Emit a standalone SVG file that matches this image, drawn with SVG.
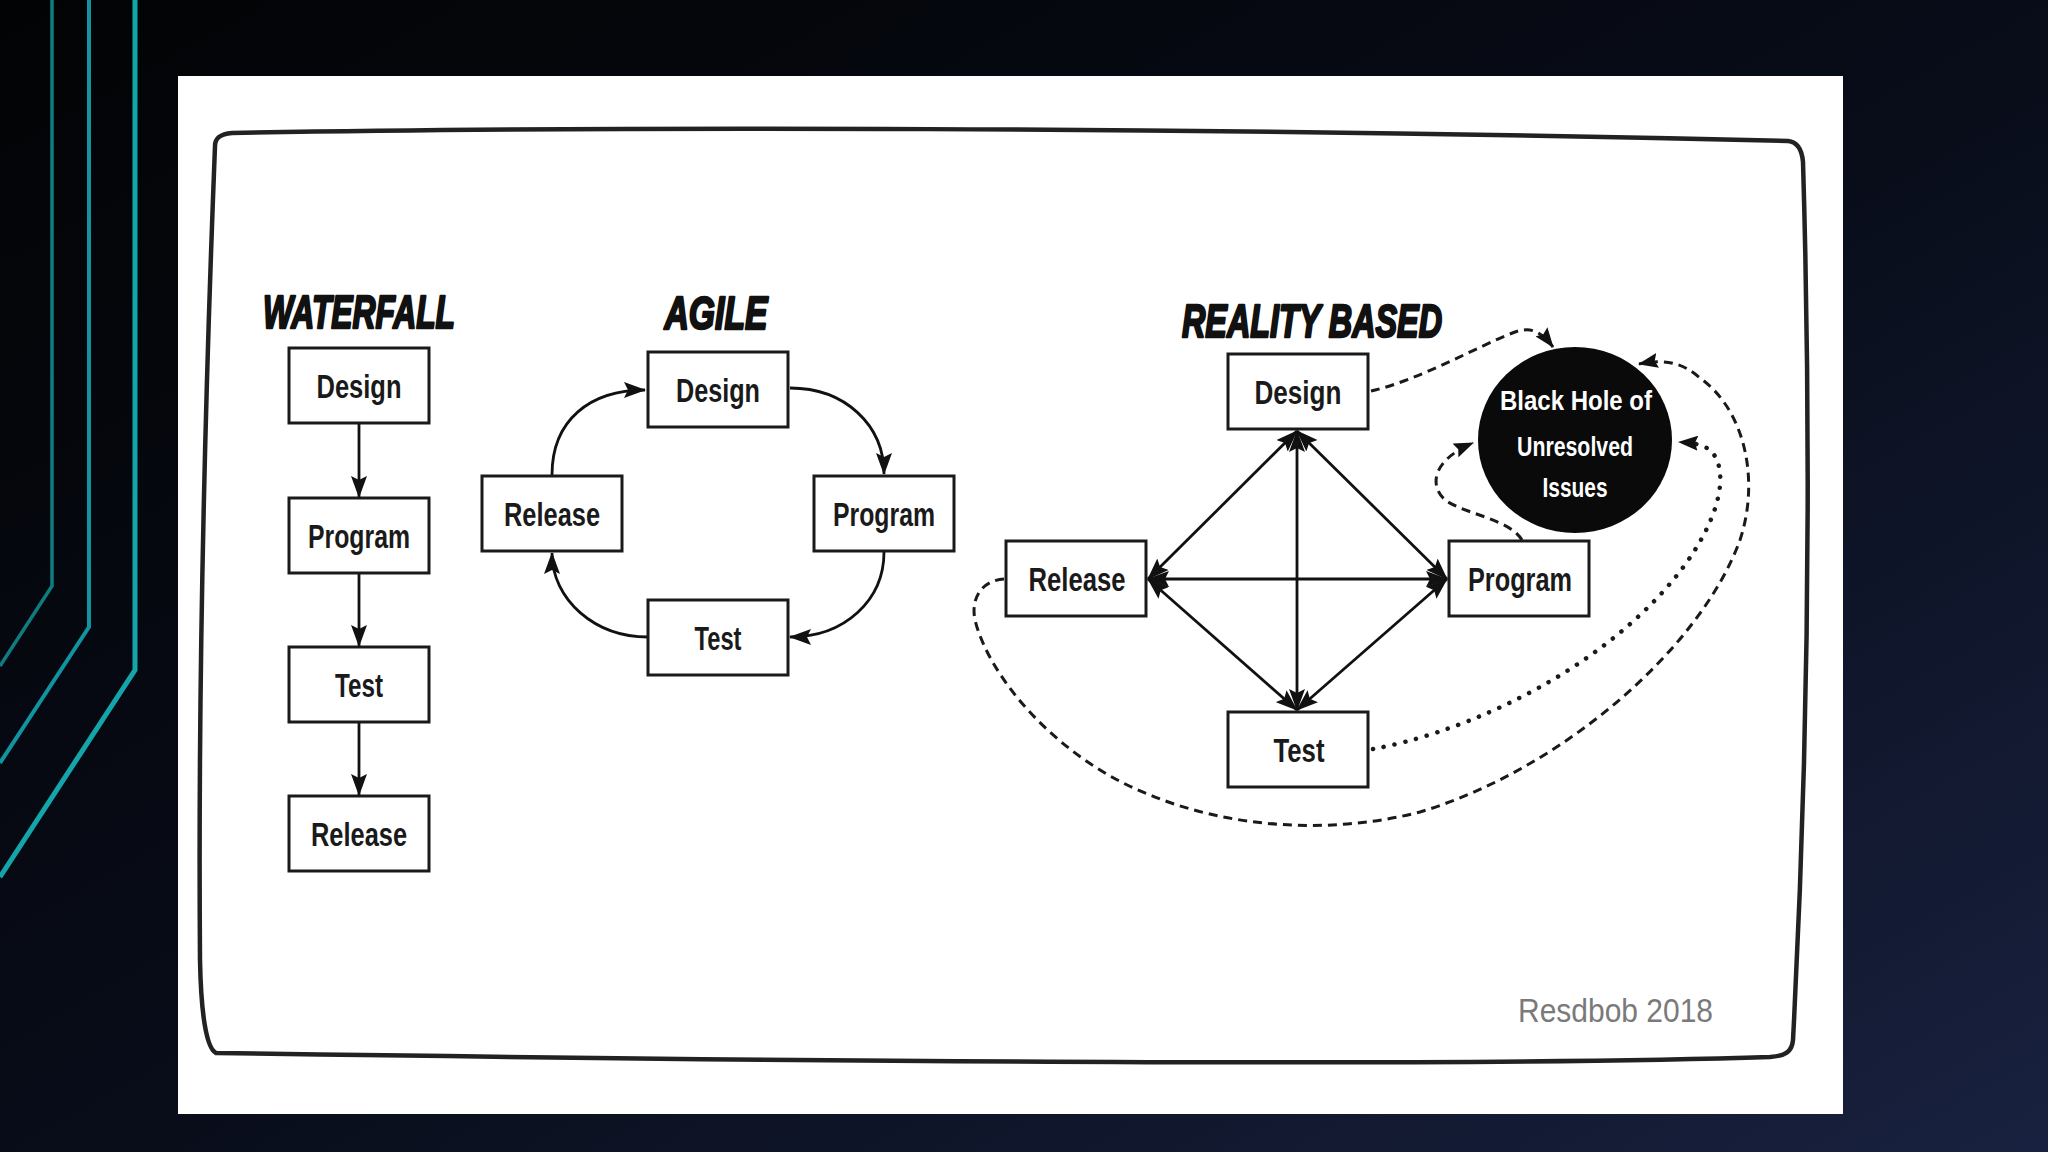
<svg xmlns="http://www.w3.org/2000/svg" width="2048" height="1152" viewBox="0 0 2048 1152">
<defs>
<linearGradient id="bg" x1="0" y1="0" x2="1" y2="1">
<stop offset="0" stop-color="#020304"/>
<stop offset="0.5" stop-color="#080c18"/>
<stop offset="1" stop-color="#18213f"/>
</linearGradient>
<marker id="ah" markerUnits="userSpaceOnUse" markerWidth="22" markerHeight="16" viewBox="0 0 22 16" refX="21" refY="8" orient="auto-start-reverse">
<path d="M0,0 L22,8 L0,16 L4,8 Z" fill="#111"/>
</marker>
<marker id="ahs" markerUnits="userSpaceOnUse" markerWidth="20" markerHeight="15" viewBox="0 0 20 15" refX="19" refY="7.5" orient="auto">
<path d="M0,0 L20,7.5 L0,15 L3,7.5 Z" fill="#111"/>
</marker>
<style>
.teal{fill:none;stroke-linejoin:miter}
.box{fill:#fff;stroke:#1a1a1a;stroke-width:3}
.lbl{font-family:"Liberation Sans","DejaVu Sans",sans-serif;font-weight:bold;font-size:34px;fill:#1a1a1a;text-anchor:middle}
.ttl{font-family:"Liberation Sans","DejaVu Sans",sans-serif;font-weight:bold;font-style:italic;font-size:47px;fill:#111;stroke:#111;stroke-width:2.5;stroke-linejoin:round;text-anchor:middle}
.hole{font-family:"Liberation Sans","DejaVu Sans",sans-serif;font-weight:bold;font-size:27px;fill:#fff;text-anchor:middle}
.con{fill:none;stroke:#111;stroke-width:2.8}
.dash{fill:none;stroke:#1a1a1a;stroke-width:3;stroke-dasharray:9 6}
.dot{fill:none;stroke:#1a1a1a;stroke-width:4.5;stroke-dasharray:0.1 11;stroke-linecap:round}
</style>
</defs>
<rect x="0" y="0" width="2048" height="1152" fill="url(#bg)"/>
<g id="decor">
<polyline class="teal" points="52,0 52,586 0,666" stroke="#0f7c80" stroke-width="3.5"/>
<polyline class="teal" points="89,0 89,627 0,763" stroke="#1194a0" stroke-width="4"/>
<polyline class="teal" points="135,0 135,670 0,877" stroke="#14a5aa" stroke-width="5"/>
</g>
<rect id="panel" x="178" y="76" width="1665" height="1038" fill="#ffffff"/>
<path id="frame" d="M215,146 C215,138 220,134 232,133 C600,126 1200,127 1788,141 C1798,142 1802,150 1803,162 C1810,400 1811,700 1793,1040 C1792,1052 1785,1056 1770,1057 C1500,1066 900,1063 216,1053 C206,1048 201,1012 200,960 C198,700 205,400 215,146 Z" fill="none" stroke="#222" stroke-width="4.5" stroke-linejoin="round"/>

<g id="titles">
<text class="ttl" x="359" y="328" textLength="192" lengthAdjust="spacingAndGlyphs">WATERFALL</text>
<text class="ttl" x="716" y="329" textLength="103" lengthAdjust="spacingAndGlyphs">AGILE</text>
<text class="ttl" x="1312" y="337" textLength="260" lengthAdjust="spacingAndGlyphs">REALITY BASED</text>
</g>

<g id="connectors">
<line class="con" x1="359" y1="423" x2="359" y2="497" marker-end="url(#ah)"/>
<line class="con" x1="359" y1="573" x2="359" y2="646" marker-end="url(#ah)"/>
<line class="con" x1="359" y1="722" x2="359" y2="795" marker-end="url(#ah)"/>
<path class="con" d="M552,475 C552,420 590,390 645,390" marker-end="url(#ah)"/>
<path class="con" d="M790,388 C845,388 884,425 884,474" marker-end="url(#ah)"/>
<path class="con" d="M884,552 C884,600 845,637 790,637" marker-end="url(#ah)"/>
<path class="con" d="M648,637 C595,637 552,600 552,553" marker-end="url(#ah)"/>
<line class="con" x1="1297" y1="431" x2="1148" y2="579" marker-start="url(#ah)" marker-end="url(#ah)"/>
<line class="con" x1="1297" y1="431" x2="1447" y2="579" marker-start="url(#ah)" marker-end="url(#ah)"/>
<line class="con" x1="1148" y1="579" x2="1297" y2="710" marker-start="url(#ah)" marker-end="url(#ah)"/>
<line class="con" x1="1447" y1="579" x2="1297" y2="710" marker-start="url(#ah)" marker-end="url(#ah)"/>
<line class="con" x1="1148" y1="579" x2="1447" y2="579" marker-start="url(#ah)" marker-end="url(#ah)"/>
<line class="con" x1="1297" y1="431" x2="1297" y2="710" marker-start="url(#ah)" marker-end="url(#ah)"/>
<path class="dash" d="M1371,391 C1420,380 1480,345 1515,332 C1530,327 1540,330 1553,347" marker-end="url(#ahs)"/>
<path class="dash" d="M1522,540 C1510,520 1470,515 1448,502 C1430,490 1428,462 1473,443" marker-end="url(#ahs)"/>
<path class="dot" d="M1373,749 C1450,735 1560,690 1640,615 C1710,550 1735,480 1712,452 C1705,445 1695,443 1679,442" marker-end="url(#ahs)"/>
<path class="dash" d="M1004,579 C985,580 970,595 975,620 C990,680 1060,760 1150,795 C1230,828 1330,835 1420,812 C1560,770 1700,650 1740,540 C1760,480 1745,410 1700,378 C1685,365 1670,358 1639,364" marker-end="url(#ahs)"/>
</g>

<g id="wf-design"><rect class="box" x="289" y="348" width="140" height="75"/><text class="lbl" x="359" y="398" textLength="85" lengthAdjust="spacingAndGlyphs">Design</text></g>
<g id="wf-program"><rect class="box" x="289" y="498" width="140" height="75"/><text class="lbl" x="359" y="548" textLength="102" lengthAdjust="spacingAndGlyphs">Program</text></g>
<g id="wf-test"><rect class="box" x="289" y="647" width="140" height="75"/><text class="lbl" x="359" y="697" textLength="48" lengthAdjust="spacingAndGlyphs">Test</text></g>
<g id="wf-release"><rect class="box" x="289" y="796" width="140" height="75"/><text class="lbl" x="359" y="846" textLength="96" lengthAdjust="spacingAndGlyphs">Release</text></g>

<g id="ag-design"><rect class="box" x="648" y="352" width="140" height="75"/><text class="lbl" x="718" y="402" textLength="84" lengthAdjust="spacingAndGlyphs">Design</text></g>
<g id="ag-release"><rect class="box" x="482" y="476" width="140" height="75"/><text class="lbl" x="552" y="526" textLength="96" lengthAdjust="spacingAndGlyphs">Release</text></g>
<g id="ag-program"><rect class="box" x="814" y="476" width="140" height="75"/><text class="lbl" x="884" y="526" textLength="102" lengthAdjust="spacingAndGlyphs">Program</text></g>
<g id="ag-test"><rect class="box" x="648" y="600" width="140" height="75"/><text class="lbl" x="718" y="650" textLength="47" lengthAdjust="spacingAndGlyphs">Test</text></g>

<g id="rb-design"><rect class="box" x="1228" y="354" width="140" height="75"/><text class="lbl" x="1298" y="404" textLength="87" lengthAdjust="spacingAndGlyphs">Design</text></g>
<g id="rb-release"><rect class="box" x="1006" y="541" width="140" height="75"/><text class="lbl" x="1077" y="591" textLength="97" lengthAdjust="spacingAndGlyphs">Release</text></g>
<g id="rb-program"><rect class="box" x="1449" y="541" width="140" height="75"/><text class="lbl" x="1520" y="591" textLength="104" lengthAdjust="spacingAndGlyphs">Program</text></g>
<g id="rb-test"><rect class="box" x="1228" y="712" width="140" height="75"/><text class="lbl" x="1299" y="762" textLength="51" lengthAdjust="spacingAndGlyphs">Test</text></g>

<g id="black-hole">
<ellipse cx="1575" cy="440" rx="97" ry="93" fill="#0a0a0a"/>
<text class="hole" x="1576" y="410" textLength="152" lengthAdjust="spacingAndGlyphs">Black Hole of</text>
<text class="hole" x="1575" y="456" textLength="116" lengthAdjust="spacingAndGlyphs">Unresolved</text>
<text class="hole" x="1575" y="497" textLength="65" lengthAdjust="spacingAndGlyphs">Issues</text>
</g>

<text id="signature" x="1518" y="1022" font-family="'Liberation Sans','DejaVu Sans',sans-serif" font-size="34" fill="#7a7a7a" textLength="195" lengthAdjust="spacingAndGlyphs">Resdbob 2018</text>
</svg>
